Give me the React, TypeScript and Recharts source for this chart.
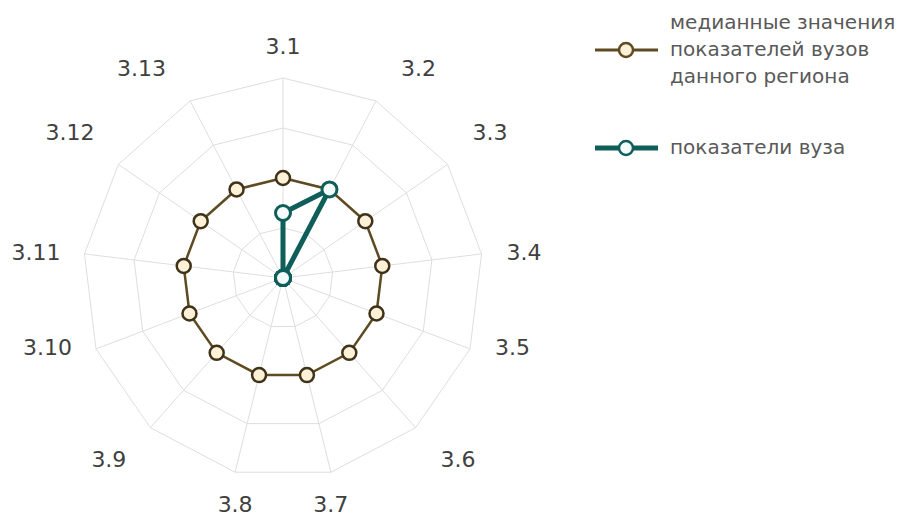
import { Legend, PolarAngleAxis, PolarGrid, PolarRadiusAxis, Radar, RadarChart } from 'recharts'

const categories = ['3.1', '3.2', '3.3', '3.4', '3.5', '3.6', '3.7', '3.8', '3.9', '3.10', '3.11', '3.12', '3.13']
const medianValues = [2, 2, 2, 2, 2, 2, 2, 2, 2, 2, 2, 2, 2]
const universityValues = [1.3, 2, 0, 0, 0, 0, 0, 0, 0, 0, 0, 0, 0]
const seriesNames = ['медианные значения\nпоказателей вузов\nданного региона', 'показатели вуза']

const data = categories.map((name, i) => ({
  name,
  median: medianValues[i],
  university: universityValues[i]
}))

const CX = 283
const CY = 278
const R = 200

const dotFills: Record<string, string> = { median: '#fdf1d8', university: '#f4fbfb' }

const AngleTick = (props: any) => {
  const { x, y, payload } = props
  const dx = x - CX
  const dy = y - CY
  const len = Math.hypot(dx, dy) || 1
  const s = dx / len
  const c = -dy / len
  const vx = CX + R * s
  const vy = CY - R * c
  let anchor: 'start' | 'middle' | 'end' = 'middle'
  let tx = vx
  let ty = vy - 1
  if (s > 0.35) {
    anchor = 'start'
    tx = vx + 25
  } else if (s < -0.35) {
    anchor = 'end'
    tx = vx - 24
  }
  if (c > 0.45) ty = vy - 32
  else if (c < -0.45) ty = vy + 32
  return (
    <text x={tx} y={ty} textAnchor={anchor} dominantBaseline="central" fontSize={22} fill="#404040" fontFamily="'DejaVu Sans', sans-serif">
      {payload.value}
    </text>
  )
}

const renderLegend = (props: any) => {
  const { payload } = props
  return (
    <div style={{ fontFamily: "'DejaVu Sans', sans-serif", fontSize: 20, color: '#595959' }}>
      {payload.map((entry: any, i: number) => (
        <div key={i} style={{ display: 'flex', alignItems: 'center', marginBottom: 44 }}>
          <svg width={75} height={20} style={{ flex: 'none' }}>
            <line x1={0} y1={10} x2={63} y2={10} stroke={entry.color} strokeWidth={i === 0 ? 3 : 5} />
            <circle cx={31} cy={10} r={7} fill={dotFills[entry.dataKey]} stroke={entry.color} strokeWidth={2.5} />
          </svg>
          <span style={{ whiteSpace: 'pre', lineHeight: '27px' }}>{entry.value}</span>
        </div>
      ))}
    </div>
  )
}

export default function App() {
  return (
    <div style={{ position: 'fixed', left: 0, top: 0, width: 909, height: 517, overflow: 'hidden', background: '#fff' }}>
      <RadarChart
        width={909}
        height={517}
        data={data}
        cx={CX}
        cy={CY}
        outerRadius={R}
        margin={{ top: 0, right: 0, bottom: 0, left: 0 }}
      >
        <PolarGrid gridType="polygon" stroke="#dedede" strokeWidth={1} />
        <PolarAngleAxis dataKey="name" tick={AngleTick} tickLine={false} axisLine={false} />
        <PolarRadiusAxis domain={[0, 4]} tickCount={5} tick={false} axisLine={false} />
        <Radar
          name={seriesNames[0]}
          dataKey="median"
          stroke="#5e4b22"
          strokeWidth={2.5}
          fill="none"
          dot={{ r: 7, fill: dotFills.median, stroke: '#3f3219', strokeWidth: 2.5 }}
          isAnimationActive={false}
        />
        <Radar
          name={seriesNames[1]}
          dataKey="university"
          stroke="#0f5e5a"
          strokeWidth={5}
          fill="none"
          dot={{ r: 7.5, fill: dotFills.university, stroke: '#0f5e5a', strokeWidth: 3 }}
          isAnimationActive={false}
        />
        <Legend
          layout="vertical"
          align="right"
          verticalAlign="top"
          content={renderLegend}
          wrapperStyle={{ top: 9, left: 595, width: 320 }}
        />
      </RadarChart>
    </div>
  )
}
